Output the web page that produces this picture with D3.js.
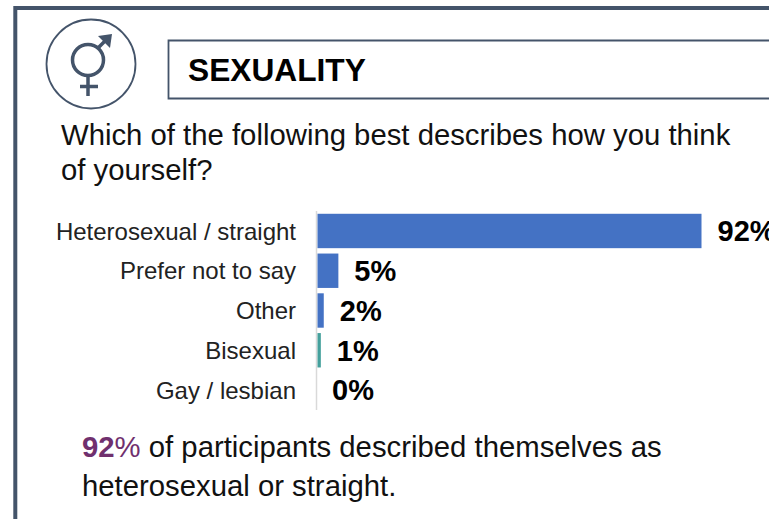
<!DOCTYPE html>
<html><head><meta charset="utf-8">
<script src="https://cdn.jsdelivr.net/npm/d3@7/dist/d3.min.js"></script>
<style>html,body{margin:0;padding:0;background:#fff;overflow:hidden}svg{display:block}text{font-family:"Liberation Sans",Arial,sans-serif}</style>
</head><body><svg id="c" width="769" height="519"></svg>
<script>
const categories = ["Heterosexual / straight","Prefer not to say","Other","Bisexual","Gay / lesbian"];
const values = [92,5,1.5,0.8,0];
const valueLabels = ["92%","5%","2%","1%","0%"];
const barColors = ["#4472c4","#4472c4","#4472c4","#44a09c","#4472c4"];
const questionLines = ["Which of the following best describes how you think","of yourself?"];

const svg = d3.select("#c");
const slate = "#44546a";
// frame
svg.append("path").attr("d","M15.3,519V8H769").attr("fill","none").attr("stroke",slate).attr("stroke-width",4);
// title box
svg.append("path").attr("d","M769,40.5H168.5V98.5H769").attr("fill","none").attr("stroke",slate).attr("stroke-width",1.8);
svg.append("text").attr("x",188).attr("y",81).attr("font-size",31.7).attr("font-weight",700).attr("fill","#000").text("SEXUALITY");
// icon
const icon = svg.append("g").attr("fill","none").attr("stroke",slate);
icon.append("circle").attr("cx",91).attr("cy",64).attr("r",44.5).attr("stroke-width",1.8);
icon.append("circle").attr("cx",88).attr("cy",60).attr("r",15.5).attr("stroke-width",3.5);
icon.append("path").attr("d","M88,76V96M80,86.5H98M98,48L109,37").attr("stroke-width",3.5);
svg.append("path").attr("d","M98,36L112,34L110,48Z").attr("fill",slate);
// question
svg.selectAll("text.q").data(questionLines).join("text").attr("class","q")
  .attr("x",61).attr("y",(d,i)=>145+i*35).attr("font-size",29.3).attr("fill","#111").text(d=>d);
// chart
const x = d3.scaleLinear().domain([0,92]).range([317.5,701.5]);
const y = d3.scaleBand().domain(categories).range([211,410]).paddingInner(0.135).paddingOuter(0.07);
svg.append("line").attr("x1",316.5).attr("x2",316.5).attr("y1",211).attr("y2",410).attr("stroke","#d9d9d9").attr("stroke-width",1.5);
svg.selectAll("rect.b").data(categories).join("rect").attr("class","b")
  .attr("x",x(0)).attr("y",d=>y(d)).attr("height",y.bandwidth())
  .attr("width",(d,i)=>x(values[i])-x(0)).attr("fill",(d,i)=>barColors[i]);
svg.selectAll("text.c").data(categories).join("text").attr("class","c")
  .attr("x",296).attr("y",d=>y(d)+y.bandwidth()/2).attr("dy","0.36em")
  .attr("text-anchor","end").attr("font-size",24).attr("fill","#222").text(d=>d);
svg.selectAll("text.v").data(categories).join("text").attr("class","v")
  .attr("x",(d,i)=>x(values[i])+(i===4?14.5:16)).attr("y",d=>y(d)+y.bandwidth()/2).attr("dy","0.36em")
  .attr("font-size",29).attr("font-weight",700).attr("fill","#000").text((d,i)=>valueLabels[i]);
// note
const note = svg.append("text").attr("x",82).attr("y",457).attr("font-size",29.3).attr("fill","#111");
note.append("tspan").attr("font-weight",700).attr("fill","#70306e").text("92");
note.append("tspan").attr("fill","#70306e").text("%");
note.append("tspan").text(" of participants described themselves as");
svg.append("text").attr("x",82).attr("y",496).attr("font-size",29.3).attr("fill","#111").text("heterosexual or straight.");
</script></body></html>
